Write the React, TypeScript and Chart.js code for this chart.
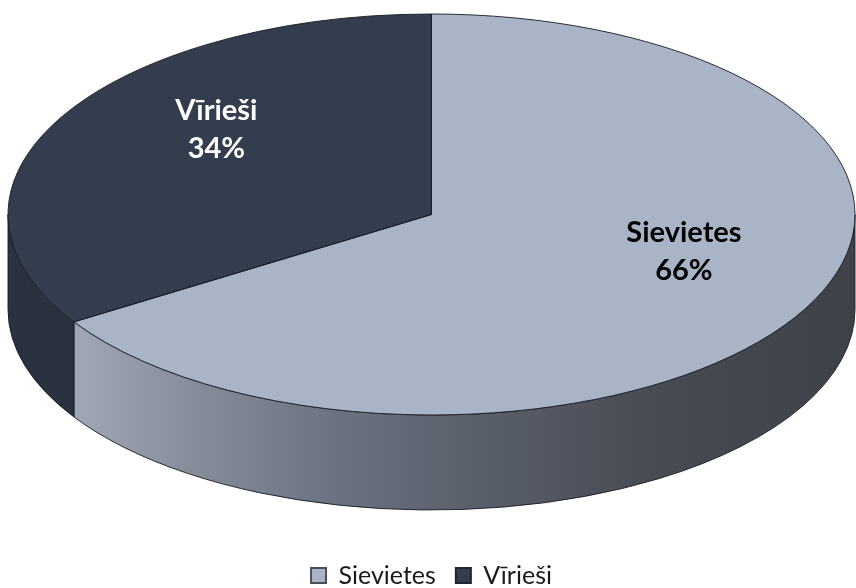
import React, { useEffect, useRef } from "react";
import { Chart, registerables } from "chart.js";

Chart.register(...registerables);

// ---- data ----
const categories = ["Sievietes", "Vīrieši"];
const shares = [66, 34];
const topColors = ["#A9B4C6", "#333D4E"];
const legendBorders = ["#4a4f58", "#1f252e"];
const labelColors = ["#000000", "#ffffff"];

// ---- 3D projection settings ----
const TILT = 0.4734; // vertical radius / horizontal radius of top face
const DEPTH = 0.474; // wall height / vertical radius
const LABEL_R = 0.63;
const LABEL_LIFT = 0.12;
const LABEL_SHIFT = 0.044;
const FONT = "Lato";

type Proj = { R: number; rx: number; ry: number; cx: number; cy: number; ax: number; ay: number; sx: number; sy: number; depth: number };

function projection(chart: any): Proj | null {
  const area = chart.chartArea;
  const meta = chart.getDatasetMeta(0);
  const arc: any = meta && meta.data && meta.data[0];
  if (!area || !arc) return null;
  const R = arc.outerRadius;
  const rx = (area.right - area.left) / 2;
  const ry = rx * TILT;
  return { R, rx, ry, cx: arc.x, cy: area.top + ry, ax: arc.x, ay: arc.y, sx: rx / R, sy: ry / R, depth: DEPTH * ry };
}

function applyProj(ctx: CanvasRenderingContext2D, p: Proj) {
  ctx.translate(p.cx, p.cy);
  ctx.scale(p.sx, p.sy);
  ctx.translate(-p.ax, -p.ay);
}

function sideGradient(ctx: CanvasRenderingContext2D, left: number, right: number, i: number) {
  const g = ctx.createLinearGradient(left, 0, right, 0);
  if (i === 0) {
    g.addColorStop(0, "#b0b8c5");
    g.addColorStop(0.05, "#a5adba");
    g.addColorStop(0.22, "#858d9a");
    g.addColorStop(0.4, "#697080");
    g.addColorStop(0.55, "#5a606b");
    g.addColorStop(0.75, "#484c55");
    g.addColorStop(1, "#3d4148");
  } else {
    g.addColorStop(0, "#2a3240");
    g.addColorStop(0.3, "#262d39");
    g.addColorStop(1, "#1c212a");
  }
  return g;
}

const pie3d = {
  id: "pie3d",
  beforeDatasetsDraw(chart: any) {
    const ctx: CanvasRenderingContext2D = chart.ctx;
    const p = projection(chart);
    if (!p) return;
    const area = chart.chartArea;
    const arcs: any[] = chart.getDatasetMeta(0).data;
    const TWO = Math.PI * 2;
    arcs.forEach((el, i) => {
      const a0 = el.startAngle;
      const a1 = el.endAngle;
      for (let k = -1; k <= 1; k++) {
        const s = Math.max(a0, k * TWO);
        const e = Math.min(a1, k * TWO + Math.PI);
        if (e - s <= 1e-6) continue;
        ctx.save();
        applyProj(ctx, p);
        ctx.beginPath();
        ctx.arc(p.ax, p.ay, p.R, s, e);
        ctx.arc(p.ax, p.ay + p.depth / p.sy, p.R, e, s, true);
        ctx.closePath();
        ctx.restore();
        ctx.save();
        ctx.fillStyle = sideGradient(ctx, area.left, area.right, i);
        ctx.fill();
        ctx.lineWidth = 1;
        ctx.strokeStyle = "rgba(22,27,36,0.9)";
        ctx.lineJoin = "round";
        ctx.stroke();
        ctx.restore();
      }
    });
    ctx.save();
    applyProj(ctx, p);
  },
  afterDatasetsDraw(chart: any) {
    const ctx: CanvasRenderingContext2D = chart.ctx;
    const p = projection(chart);
    if (!p) return;
    ctx.restore();
    const arcs: any[] = chart.getDatasetMeta(0).data;
    // outlines of the top face
    arcs.forEach((el) => {
      ctx.save();
      applyProj(ctx, p);
      ctx.beginPath();
      ctx.moveTo(p.ax, p.ay);
      ctx.arc(p.ax, p.ay, p.R, el.startAngle, el.endAngle);
      ctx.closePath();
      ctx.restore();
      ctx.save();
      ctx.lineWidth = 1;
      ctx.lineJoin = "round";
      ctx.strokeStyle = "rgba(22,27,36,0.9)";
      ctx.stroke();
      ctx.restore();
    });
    // data labels
    const total = shares.reduce((a, b) => a + b, 0);
    arcs.forEach((el, i) => {
      const mid = (el.startAngle + el.endAngle) / 2;
      const x = p.cx + LABEL_SHIFT * p.rx + LABEL_R * p.rx * Math.cos(mid);
      const y = p.cy + LABEL_R * p.ry * Math.sin(mid) - LABEL_LIFT * p.ry;
      const pct = Math.round((shares[i] / total) * 100) + "%";
      ctx.save();
      ctx.font = `bold 29px ${FONT}`;
      ctx.fillStyle = labelColors[i];
      ctx.textAlign = "center";
      ctx.textBaseline = "middle";
      ctx.fillText(categories[i], x, y - 19);
      ctx.fillText(pct, x, y + 19);
      ctx.restore();
    });
  },
};

export default function App() {
  const ref = useRef<HTMLCanvasElement | null>(null);
  useEffect(() => {
    document.body.style.margin = "0";
    const canvas = ref.current;
    if (!canvas) return;
    const chart = new Chart(canvas, {
      type: "pie",
      data: {
        labels: categories,
        datasets: [
          {
            data: shares,
            backgroundColor: topColors,
            borderWidth: 0,
            hoverOffset: 0,
            offset: 0,
            clip: false,
          } as any,
        ],
      },
      options: {
        animation: false,
        responsive: true,
        maintainAspectRatio: false,
        events: [],
        layout: { padding: { top: 14, left: 8, right: 1, bottom: -10 } },
        plugins: {
          tooltip: { enabled: false },
          legend: {
            position: "bottom",
            labels: {
              font: { family: FONT, size: 25 },
              color: "#1a1a1a",
              boxWidth: 15,
              boxHeight: 15,
              padding: 20,
              generateLabels: (c: any) => {
                const base = (Chart as any).overrides.doughnut.plugins.legend.labels.generateLabels(c);
                return base.map((it: any, i: number) => ({ ...it, strokeStyle: legendBorders[i], lineWidth: 2 }));
              },
            },
          },
        },
      },
      plugins: [pie3d],
    });
    return () => chart.destroy();
  }, []);
  return (
    <div style={{ width: 856, height: 588, position: "relative", background: "#ffffff" }}>
      <canvas ref={ref} />
    </div>
  );
}
